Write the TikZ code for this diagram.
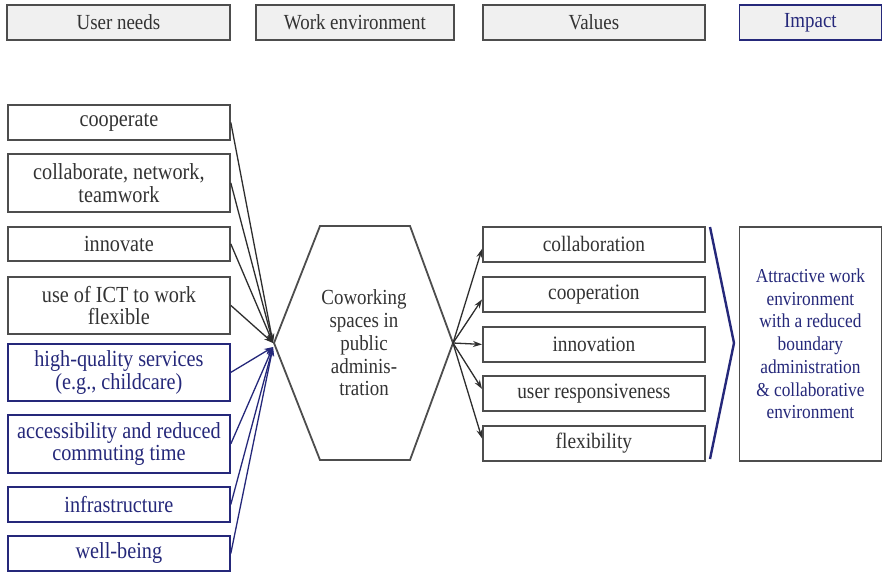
\documentclass[tikz,border=0pt]{standalone}
\usepackage{fontspec}
\setmainfont{Liberation Serif}[FakeStretch=0.88]
\usetikzlibrary{arrows.meta,calc}
\definecolor{navy}{HTML}{25287A}
\definecolor{bord}{HTML}{4D4D4D}
\definecolor{hfill}{HTML}{F0F0F0}
\definecolor{txt}{HTML}{333333}
\definecolor{ln}{HTML}{2E2E2E}
\begin{document}
\begin{tikzpicture}[x=1pt,y=-1pt,
  base/.style={draw=bord, line width=1.8pt, inner sep=0pt, align=center, anchor=north west,
    font=\fontsize{23}{22.6}\selectfont, text=txt},
  hdr/.style={base, fill=hfill, minimum width=223, minimum height=35, font=\fontsize{21.5}{22}\selectfont},
  lbox/.style={base, fill=white, minimum width=222},
  nbox/.style={lbox, draw=navy, text=navy},
  vbox/.style={base, fill=white, minimum width=222, minimum height=35, font=\fontsize{22}{22}\selectfont},
  con/.style={draw=ln, line width=1.3pt, -{Stealth[length=9pt,width=6pt]}},
  ncon/.style={con, draw=navy},
]
\useasboundingbox (0,0) rectangle (882,571);
\fill[white] (0,0) rectangle (882,571);
% headers
\node[hdr] (h1) at (6,4) {User needs};
\node[hdr, minimum width=198] (h2) at (255,4) {Work environment};
\node[hdr, minimum width=222] (h3) at (482,4) {Values};
\node[hdr, draw=navy, text=navy, minimum width=142] (h4) at (738.5,4) {Impact};
% left boxes
\node[lbox, minimum height=35] (u1) at (7,104) {cooperate};
\node[lbox, minimum height=58] (u2) at (7,153) {collaborate, network,\\teamwork};
\node[lbox, minimum height=34] (u3) at (7,226) {innovate};
\node[lbox, minimum height=57] (u4) at (7,276) {use of ICT to work\\flexible};
\node[nbox, minimum height=57] (u5) at (7,343) {high-quality services\\(e.g., childcare)};
\node[nbox, minimum height=58] (u6) at (7,414) {accessibility and reduced\\commuting time};
\node[nbox, minimum height=35] (u7) at (7,486) {infrastructure};
\node[nbox, minimum height=35] (u8) at (7,535) {well-being};
% hexagon
\coordinate (hexL) at (274,343);
\coordinate (hexR) at (453,343);
\draw[bord, line width=1.8pt] (hexL) -- (320,226) -- (410,226) -- (hexR) -- (410,460) -- (320,460) -- cycle;
\node[align=center, font=\fontsize{21.5}{22.8}\selectfont, text=txt] (hex) at (364,343) {Coworking\\spaces in\\public\\adminis-\\tration};
% left connectors
\coordinate (cD) at (273,343);
\coordinate (cN) at (273,347);
\foreach \n in {u1,u2,u3,u4} \draw[con] (\n.east) -- (cD);
\foreach \n in {u5,u6,u7,u8} \draw[ncon] (\n.east) -- (cN);
% value boxes
\node[vbox] (v1) at (482,226) {collaboration};
\node[vbox] (v2) at (482,276) {cooperation};
\node[vbox] (v3) at (482,326) {innovation};
\node[vbox] (v4) at (482,375) {user responsiveness};
\node[vbox] (v5) at (482,425) {flexibility};
\draw[con] (hexR) -- ($(v1.west)+(0,4.5)$);
\draw[con] (hexR) -- ($(v2.west)+(0,5)$);
\draw[con] (hexR) -- (v3.west);
\draw[con] (hexR) -- ($(v4.west)+(0,-4.5)$);
\draw[con] (hexR) -- ($(v5.west)+(0,-5)$);
% chevron
\coordinate (chT) at (710,227);
\coordinate (chP) at (734,343);
\coordinate (chB) at (710,459);
\draw[navy, line width=2.4pt, line join=miter] (chT) -- (chP) -- (chB);
% impact box
\node[base, fill=white, minimum width=142, minimum height=234, text=navy] (imp) at (738.5,226) {};
\node[align=center, text=navy, font=\fontsize{19.7}{22.7}\selectfont] (impt) at (imp.center) {Attractive work\\environment\\with a reduced\\boundary\\administration\\\& collaborative\\environment};
\end{tikzpicture}
\end{document}
